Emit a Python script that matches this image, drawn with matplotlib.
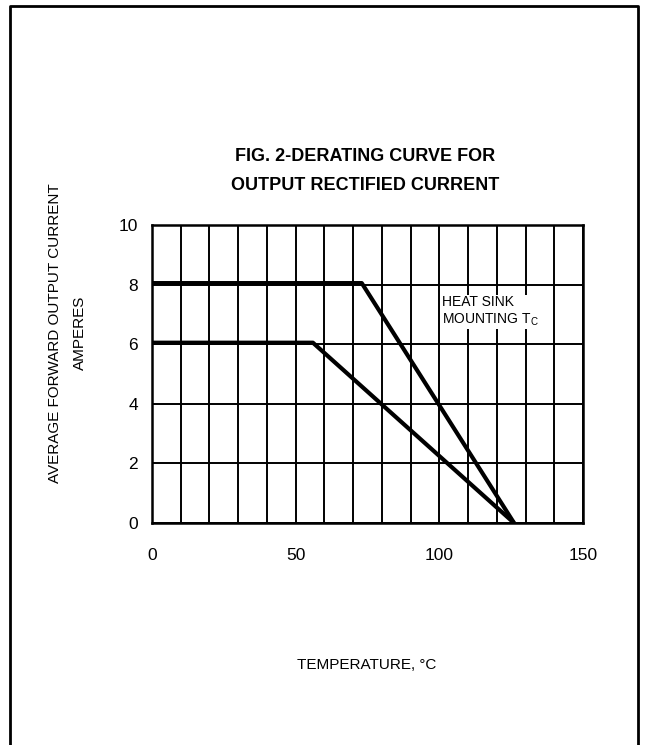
import numpy as np
import matplotlib.pyplot as plt
from matplotlib.lines import Line2D

plt.rcParams['font.family'] = ['Liberation Sans', 'DejaVu Sans']

# data
upper_temp = [0, 73, 126]
upper_current = [8.05, 8.05, 0]
lower_temp = [0, 56, 126]
lower_current = [6.05, 6.05, 0]

x_ticks = [0, 50, 100, 150]
y_ticks = [0, 2, 4, 6, 8, 10]
x_grid = np.arange(0, 151, 10)
y_grid = np.arange(0, 11, 2)

fig = plt.figure(figsize=(6.46, 7.45), dpi=100)
ax = fig.add_axes([0.2353, 0.298, 0.6672, 0.400])

# grid
for gx in x_grid:
    ax.axvline(gx, color='black', lw=1.4, zorder=1)
for gy in y_grid:
    ax.axhline(gy, color='black', lw=1.4, zorder=1)

# curves
ax.plot(upper_temp, upper_current, color='black', lw=3, solid_capstyle='butt', zorder=3)
ax.plot(lower_temp, lower_current, color='black', lw=3, solid_capstyle='butt', zorder=3)

ax.set_xlim(0, 150)
ax.set_ylim(0, 10)
ax.set_xticks(x_ticks)
ax.set_yticks(y_ticks)
ax.tick_params(length=0, labelsize=12.5, pad=10)
ax.tick_params(axis='x', pad=18)
for sp in ax.spines.values():
    sp.set_linewidth(1.8)

ax.text(101, 7.1, 'HEAT SINK\nMOUNTING T$_\\mathregular{C}$', fontsize=10,
        va='center', ha='left', linespacing=1.25,
        bbox=dict(facecolor='white', edgecolor='none', pad=1), zorder=2)

fig.text(0.565, 0.790, 'FIG. 2-DERATING CURVE FOR', fontsize=13, fontweight='bold',
         ha='center', va='center')
fig.text(0.565, 0.751, 'OUTPUT RECTIFIED CURRENT', fontsize=13, fontweight='bold',
         ha='center', va='center')

fig.text(0.085, 0.553, 'AVERAGE FORWARD OUTPUT CURRENT', fontsize=11, rotation=90,
         ha='center', va='center')
fig.text(0.124, 0.553, 'AMPERES', fontsize=11, rotation=90, ha='center', va='center')

fig.text(0.568, 0.107, 'TEMPERATURE, \u00b0C', fontsize=11, ha='center', va='center')

# page frame (open at the bottom)
x0, x1, yt = 10 / 646, 638 / 646, 1 - 6 / 745
fig.add_artist(Line2D([x0, x0, x1, x1], [0, yt, yt, 0], color='black', lw=2,
                      transform=fig.transFigure))

fig.savefig('out.png', dpi=100)
